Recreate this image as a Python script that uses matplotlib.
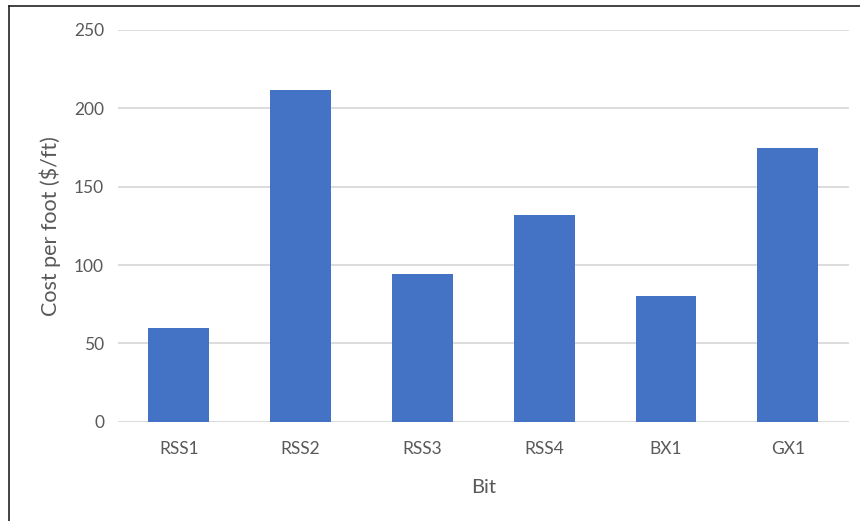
import matplotlib
matplotlib.use("Agg")
import matplotlib.pyplot as plt
from matplotlib.lines import Line2D

# Drilling cost per foot for each bit
bits = ["RSS1", "RSS2", "RSS3", "RSS4", "BX1", "GX1"]
cost_per_foot = [60, 212, 94, 132, 80, 175]
y_ticks = [0, 50, 100, 150, 200, 250]

plt.rcParams["font.family"] = ["Lato", "DejaVu Sans"]
text_color = "#595959"
bar_color = "#4472C4"
grid_color = "#D9D9D9"

W, H = 860, 521
fig = plt.figure(figsize=(W / 100, H / 100), dpi=100)
fig.patch.set_facecolor("white")

ax = fig.add_axes([118 / W, 1 - 421.7 / H, 730.6 / W, (421.7 - 30) / H])
x = range(len(bits))
ax.bar(x, cost_per_foot, width=0.5, color=bar_color, zorder=3)

ax.set_xlim(-0.5, len(bits) - 0.5)
ax.set_ylim(0, 250)
ax.set_yticks(y_ticks)
ax.set_yticklabels([str(v) for v in y_ticks])
ax.set_xticks(list(x))
ax.set_xticklabels(bits)

ax.grid(axis="y", color=grid_color, linewidth=1.3, zorder=0)
for s in ax.spines.values():
    s.set_visible(False)
ax.tick_params(axis="both", length=0, labelsize=12.5, labelcolor=text_color)
ax.tick_params(axis="y", pad=10)
ax.tick_params(axis="x", pad=14)

ax.set_xlabel("Bit", fontsize=14.5, color=text_color, labelpad=16)
ax.set_ylabel("Cost per foot ($/ft)", fontsize=15.5, color=text_color, labelpad=9)

# Frame lines along the top and left edge of the figure
fig.add_artist(Line2D([8.5 / W, 8.5 / W], [0, 1 - 6 / H], transform=fig.transFigure,
                      color="#222222", linewidth=1.2))
fig.add_artist(Line2D([8.5 / W, 1], [1 - 6 / H, 1 - 6 / H], transform=fig.transFigure,
                      color="#222222", linewidth=1.2))

fig.savefig("out.png", dpi=100, facecolor="white")
